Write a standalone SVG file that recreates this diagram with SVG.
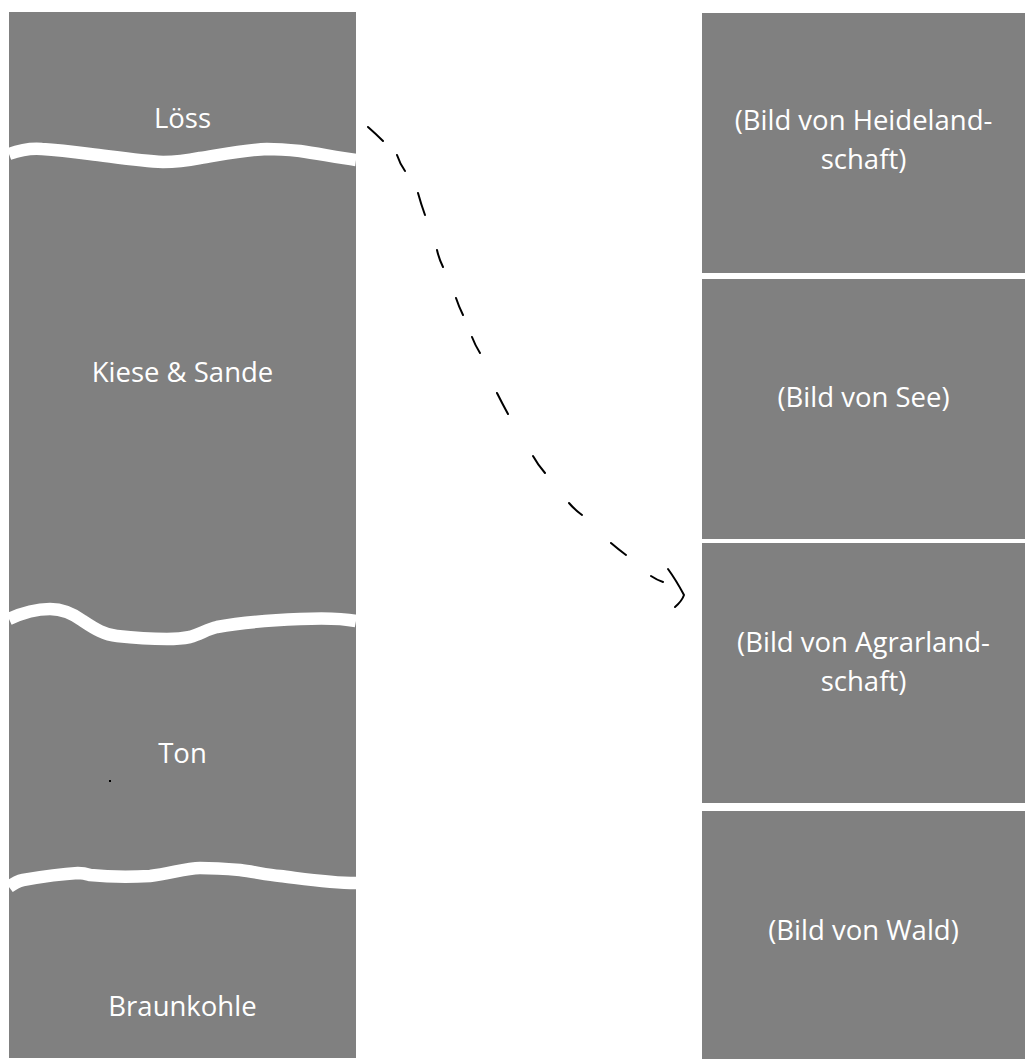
<svg xmlns="http://www.w3.org/2000/svg" width="1025" height="1059" viewBox="0 0 1025 1059">
  <style>
    .box { fill: #808080; }
    .lbl { fill: #ffffff; font-family: "Open Sans", "DejaVu Sans", sans-serif; font-size: 27.5px; text-anchor: middle; }
    .wave { fill: none; stroke: #ffffff; stroke-width: 12.5; stroke-linecap: butt; stroke-linejoin: round; }
    .conn { fill: none; stroke: #000000; stroke-width: 2; stroke-linecap: round; stroke-linejoin: round; }
  </style>
  <rect width="1025" height="1059" fill="#ffffff"/>

  <g id="column">
    <rect class="box" x="9" y="12" width="347" height="1046"/>
    <path class="wave" d="M9,154 C20,150 30,148 42,149 C60,150 75,152 90,154 C115,157 140,161 163,162 C180,162 190,160 200,158 C225,154 245,150 267,149 C280,149 290,150 300,151 C320,154 340,158 356,160"/>
    <path class="wave" d="M9,619 C22,613 35,609 50,609 C65,609 75,615 83,621 C95,629 105,635 117,636 C135,638 155,639 167,639 C178,639 185,638 190,637 C200,634 208,629 217,627 C245,622 275,620 300,619 C320,618 340,618 356,621"/>
    <path class="wave" d="M9,887 C13,884 18,881 23,880 C40,877 60,874 78,873 C84,873 87,874 90,875 C110,877 130,877 150,876 C170,874 185,868 200,868 C215,868 228,869 240,870 C255,872 268,875 280,876 C305,879 330,883 356,883"/>
    <rect x="109" y="780" width="2" height="2" fill="#000000"/>
  </g>

  <g id="layer-loess"><text class="lbl" x="182.5" y="128">Löss</text></g>
  <g id="layer-kiese"><text class="lbl" x="182.5" y="382">Kiese &amp; Sande</text></g>
  <g id="layer-ton"><text class="lbl" x="182.5" y="763">Ton</text></g>
  <g id="layer-braunkohle"><text class="lbl" x="182.5" y="1016">Braunkohle</text></g>

  <g id="bild-heide">
    <rect class="box" x="702" y="13" width="323" height="260"/>
    <text class="lbl" x="863.5" y="130">(Bild von Heideland-</text>
    <text class="lbl" x="863.5" y="169">schaft)</text>
  </g>
  <g id="bild-see">
    <rect class="box" x="702" y="279" width="323" height="260"/>
    <text class="lbl" x="863.5" y="407">(Bild von See)</text>
  </g>
  <g id="bild-agrar">
    <rect class="box" x="702" y="543" width="323" height="260"/>
    <text class="lbl" x="863.5" y="652">(Bild von Agrarland-</text>
    <text class="lbl" x="863.5" y="691">schaft)</text>
  </g>
  <g id="bild-wald">
    <rect class="box" x="702" y="811" width="323" height="248"/>
    <text class="lbl" x="863.5" y="940">(Bild von Wald)</text>
  </g>

  <g id="connectors">
    <path class="conn" d="M368,127 Q376,134 383,141 M397,155 Q400,164 405,171 M418,193 Q421,204 425,215 M437,250 Q439,259 443,267 M456,298 Q459,307 463,315 M472,337 Q475,345 480,353 M497,393 Q502,403 508,414 M533,456 Q538,465 545,473 M569,503 Q575,510 582,515 M611,543 Q618,549 626,555 M651,576 Q657,580 663,582"/>
    <path class="conn" d="M668,569 Q676,580 684,595 Q682,601 675,607"/>
  </g>
</svg>
